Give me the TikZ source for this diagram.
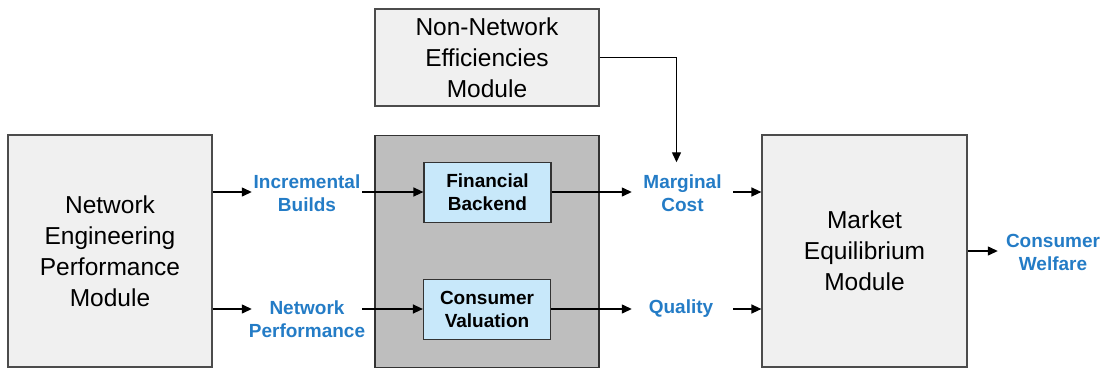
\documentclass[tikz,border=0pt]{standalone}
\usepackage{fontspec}
\setmainfont{Liberation Sans}
\usetikzlibrary{arrows.meta, positioning}
\definecolor{flowblue}{RGB}{36,124,198}
\definecolor{modfill}{RGB}{240,240,240}
\definecolor{panelfill}{RGB}{190,190,190}
\definecolor{subfill}{RGB}{200,232,250}

\begin{document}
\begin{tikzpicture}[
			x=1pt, y=-1pt,
			every node/.style={font=\fontsize{24.5}{31}\selectfont},
			module/.style={draw=black!70, fill=modfill, line width=1.2pt, align=center, inner sep=0pt},
			sub/.style={draw=black!80, fill=subfill, line width=1.2pt, align=center, inner sep=0pt, minimum width=127pt, minimum height=60pt, font=\fontsize{19}{23}\selectfont\bfseries},
			flow/.style={text=flowblue, align=center, inner sep=0pt, font=\fontsize{19}{23}\selectfont\bfseries},
			arrow/.style={-{Triangle[length=10pt, width=9pt]}, line width=1.3pt},
			]
			
			\useasboundingbox (0,0) rectangle (1104,368);
			
			\node[module, minimum width=204pt, minimum height=232pt] (nep) at (110,251) {Network\\Engineering\\Performance\\Module};
			\node[module, minimum width=224pt, minimum height=97pt] (nne) at (487,57.5) {Non-Network\\Efficiencies\\Module};
			\node[module, draw=black!80, fill=panelfill, minimum width=224pt, minimum height=232pt] (panel) at (487,251.5) {};
			\node[module, minimum width=205pt, minimum height=232pt] (mem) at (864.5,251) {Market\\Equilibrium\\Module};
			
			\node[sub] (fb) at (487.5,192.5) {Financial\\Backend};
			\node[sub] (cv) at (487,309.5) {Consumer\\Valuation};
			
			\node[flow, minimum width=110pt] (ib) at (307,193) {Incremental\\Builds};
			\node[flow] (np) at (307,319.5) {Network\\Performance};
			\node[flow, minimum width=101pt, minimum height=62pt] (mc) at (682.5,193.5) {Marginal\\Cost};
			\node[flow] (q) at (681,309) {Quality};
			\node[flow, minimum width=110pt] (cw) at (1053,252) {Consumer\\Welfare};
			
			\coordinate (top) at (0,192);
			\coordinate (bot) at (0,309);
			
			\draw[arrow] (nep.east |- top) -- (ib.west |- top);
			\draw[arrow] (nep.east |- bot) -- (ib.west |- bot);
			\draw[arrow] (ib.east |- top) -- (fb.west |- top);
			\draw[arrow] (ib.east |- bot) -- (cv.west |- bot);
			
			\draw[arrow] (fb.east |- top) -- (mc.west |- top);
			\draw[arrow] (cv.east |- bot) -- (mc.west |- bot);
			\draw[arrow] (nne.east) -| ([xshift=-6pt]mc.north);
			
			\draw[arrow] (mc.east |- top) -- (mem.west |- top);
			\draw[arrow] (mc.east |- bot) -- (mem.west |- bot);
			\draw[arrow] (mem.east) -- (cw.west |- mem.east);
			
		\end{tikzpicture}
\end{document}
